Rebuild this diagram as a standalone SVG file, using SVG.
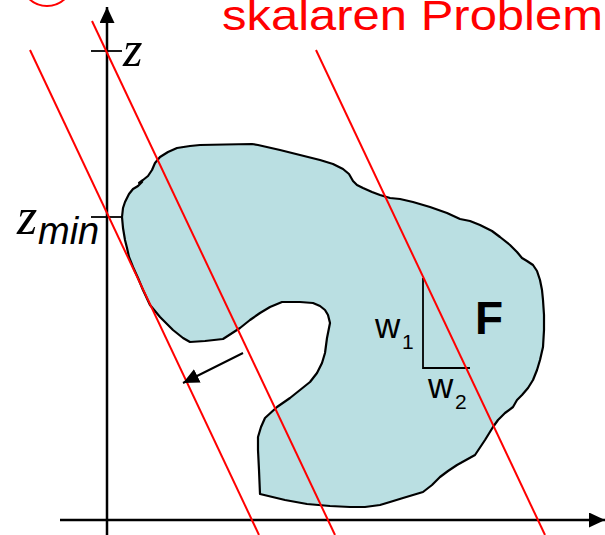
<svg xmlns="http://www.w3.org/2000/svg" width="605" height="535" viewBox="0 0 605 535">
<style>
.ax{stroke:#000;stroke-width:2.5;fill:none}
.tk{stroke:#000;stroke-width:1.8;fill:none}
.rl{stroke:#FF0000;stroke-width:2;fill:none}
.sans{font-family:"Liberation Sans",Arial,sans-serif}
.serif{font-family:"Liberation Serif","Times New Roman",serif;font-style:italic}
</style>
<defs>
<marker id="ah" markerUnits="userSpaceOnUse" markerWidth="16" markerHeight="15" viewBox="0 0 16 15" refX="16" refY="7.5" orient="auto">
<path d="M0,0 L16,7.5 L0,15 Z" fill="#000"/>
</marker>
</defs>
<rect width="605" height="535" fill="#fff"/>
<circle cx="47" cy="-20" r="26" fill="none" stroke="#FF0000" stroke-width="2"/>
<text class="sans" x="222" y="30" font-size="42" fill="#FF0000" textLength="381" lengthAdjust="spacingAndGlyphs">skalaren Problem</text>
<g id="region-F">
<path fill="#BADFE2" stroke="#000" stroke-width="2.2" stroke-linejoin="round" d="M122,217 L123,208 L125,202 L129,194 L133,189 L138,186 L142,182 L139,183 L143,180 L148,176 L152,170 L155,163 L160,157 L168,152 L177,148 L190,146 L200,145 L225,144.5 L252,144 L258,145 L280,150 L300,155 L320,160 L333,164 L343,169 L349,174 L353,181 L357,185 L363,188 L372,192 L380,195 L390,198 L400,199 L413,202 L430,207 L447,213 L460,219 L470,221 L480,225 L492,231 L500,237 L510,245 L517,252 L522,258 L527,261 L533,265 L537,271 L540,280 L542,290 L543,300 L544,315 L544,330 L543,347 L540,360 L537,370 L533,380 L528,388 L522,395 L517,400 L513,407 L505,413 L498,420 L493,427 L485,440 L475,455 L466,460 L457,465 L448,471 L440,477 L432,485 L423,492 L413,495 L403,498 L390,502 L380,505 L365,507 L350,507 L330,506 L307,504 L285,500 L260,494 L259,470 L258,450 L258,437 L261,427 L265,418 L277,407 L290,398 L300,390 L310,382 L317,373 L322,363 L325,353 L327,338 L330,323 L328,315 L325,310 L320,306 L313,303 L300,302 L282,302 L270,307 L260,313 L250,320 L240,328 L223,339 L205,341 L190,342 L183,338 L173,330 L160,317 L150,305 L143,290 L138,278 L133,267 L129,257 L127,248 L125,240 L123,228 Z"/>
<path class="tk" d="M423,278 L423,368 L470,368"/>
<text class="sans" x="375" y="338" font-size="35">w</text>
<text class="sans" x="402" y="349" font-size="21">1</text>
<text class="sans" x="428" y="398" font-size="35">w</text>
<text class="sans" x="455" y="409" font-size="21">2</text>
<text class="sans" x="475" y="334" font-size="46" font-weight="bold">F</text>
</g>
<g id="axes">
<line class="ax" x1="107" y1="535" x2="107" y2="7" marker-end="url(#ah)"/>
<line class="ax" x1="60" y1="520" x2="605" y2="520" marker-end="url(#ah)"/>
<line class="tk" x1="91" y1="51" x2="122" y2="51"/>
<line class="tk" x1="91" y1="217" x2="122" y2="217"/>
<text class="serif" x="123" y="66" font-size="50">z</text>
<text class="serif" x="17" y="234" font-size="52">z</text>
<text class="sans" x="38" y="244" font-size="38" font-style="italic">min</text>
</g>
<g id="connectors">
<line class="rl" x1="30" y1="50" x2="259" y2="535"/>
<line class="rl" x1="92" y1="21" x2="335" y2="535"/>
<line class="rl" x1="316" y1="50" x2="545" y2="535"/>
<line stroke="#000" stroke-width="2" x1="243" y1="353" x2="183" y2="383" marker-end="url(#ah)"/>
</g>
</svg>
